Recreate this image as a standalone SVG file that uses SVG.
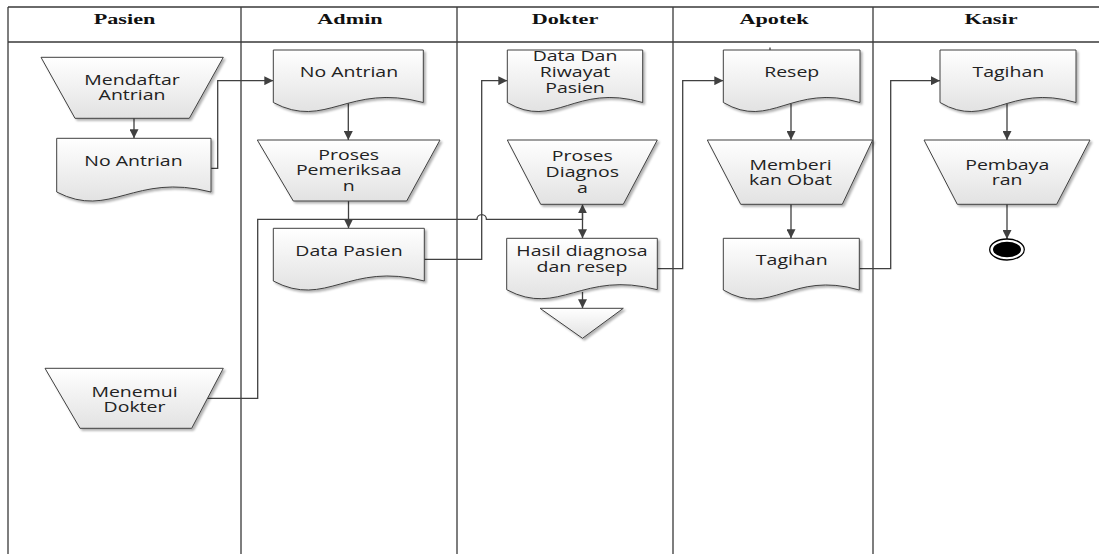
<svg xmlns="http://www.w3.org/2000/svg" width="1099" height="554" viewBox="0 0 1099 554">
<defs>
<linearGradient id="g" x1="0" y1="0" x2="0" y2="1">
<stop offset="0" stop-color="#ffffff"/>
<stop offset="1" stop-color="#e2e2e2"/>
</linearGradient>
<filter id="sh" x="-10%" y="-10%" width="130%" height="140%">
<feDropShadow dx="2" dy="2" stdDeviation="1.2" flood-color="#000" flood-opacity="0.3"/>
</filter>
<marker id="arr" viewBox="0 0 10 10" refX="10" refY="5" markerWidth="9" markerHeight="9" markerUnits="userSpaceOnUse" orient="auto">
<path d="M0,0 L10,5 L0,10 z" fill="#404040"/>
</marker>
<style>
.lane{stroke:#3a3a3a;stroke-width:1.3;fill:none}
.hd{font-family:"Liberation Serif","Times New Roman",serif;font-weight:bold;font-size:15px;fill:#111;text-anchor:middle}
.sh{fill:url(#g);stroke:#404040;stroke-width:1;filter:url(#sh)}
.t{font-family:"Open Sans","Noto Sans",sans-serif;font-size:15px;fill:#222;text-anchor:middle}
.c{fill:none;stroke:#404040;stroke-width:1.3}
.ca{fill:none;stroke:#404040;stroke-width:1.3;marker-end:url(#arr)}
</style>
</defs>
<rect width="1099" height="554" fill="#ffffff"/>
<g id="lanes">
<path class="lane" d="M8,7 H1099 M8,42 H1099 M8,7 V554 M241,7 V554 M457,7 V554 M673,7 V554 M873,7 V554"/>
<text class="hd" transform="translate(124.5,24) scale(1.48,1)">Pasien</text>
<text class="hd" transform="translate(350,24) scale(1.48,1)">Admin</text>
<text class="hd" transform="translate(565,24) scale(1.48,1)">Dokter</text>
<text class="hd" transform="translate(774,24) scale(1.48,1)">Apotek</text>
<text class="hd" transform="translate(991,24) scale(1.48,1)">Kasir</text>
</g>
<g id="connectors">
<path class="ca" d="M134,112 V138.3"/>
<path class="ca" d="M205,168.3 H217.7 V80.7 H273.3"/>
<path class="ca" d="M348.3,98 V140"/>
<path class="ca" d="M348.5,195 V228.3"/>
<path class="ca" d="M418,259.3 H481.7 V80.7 H507.3"/>
<path class="ca" d="M200,398.3 H257.7 V219.3 H477 a4.7,4.7 0 0 1 9.4,0 H582.5 V204.3"/>
<path class="ca" d="M582.5,212 V238.3"/>
<path class="ca" d="M582.5,292 V308.3"/>
<path class="ca" d="M650,268.7 H682.7 V80.7 H723.3"/>
<path class="ca" d="M791,98 V140"/>
<path class="ca" d="M791,198 V238.3"/>
<path class="ca" d="M852,268.7 H890.7 V80.7 H940"/>
<path class="ca" d="M1007,98 V140"/>
<path class="ca" d="M1007,198 V239"/>
<path class="c" d="M770,47.5 V51.5" stroke-width="1.6"/>
</g>
<g id="n-mendaftar">
<path class="sh" d="M41,57.3 H223.3 L189.3,118.3 H75 Z"/>
<text class="t" transform="translate(132,85) scale(1.3,1)"><tspan x="0" y="0">Mendaftar</tspan><tspan x="0" y="15">Antrian</tspan></text>
</g>
<g id="n-noantrian-pasien">
<path class="sh" d="M56.7,138.3 H211 V192 C133.9,172 110.7,220 56.7,192 Z"/>
<text class="t" transform="translate(133.5,166) scale(1.3,1)">No Antrian</text>
</g>
<g id="n-menemui">
<path class="sh" d="M45,368.3 H223.3 L191.7,428.3 H80 Z"/>
<text class="t" transform="translate(134.5,397.3) scale(1.3,1)"><tspan x="0" y="0">Menemui</tspan><tspan x="0" y="14.5">Dokter</tspan></text>
</g>
<g id="n-noantrian-admin">
<path class="sh" d="M273.3,50 H423.3 V102.5 C348.3,82.5 325.8,130.5 273.3,102.5 Z"/>
<text class="t" transform="translate(349,77.3) scale(1.3,1)">No Antrian</text>
</g>
<g id="n-pemeriksaan">
<path class="sh" d="M257.3,140 H440 L406.7,201 H293.3 Z"/>
<text class="t" transform="translate(348.7,160) scale(1.3,1)"><tspan x="0" y="0">Proses</tspan><tspan x="0" y="15.3">Pemeriksaa</tspan><tspan x="0" y="30.6">n</tspan></text>
</g>
<g id="n-datapasien">
<path class="sh" d="M273.3,228.3 H424.3 V281 C348.8,261 326.2,309 273.3,281 Z"/>
<text class="t" transform="translate(349,255.7) scale(1.3,1)">Data Pasien</text>
</g>
<g id="n-riwayat">
<path class="sh" d="M507.3,50 H642.7 V102.5 C575,82.5 554.7,130.5 507.3,102.5 Z"/>
<text class="t" transform="translate(575,60.7) scale(1.3,1)"><tspan x="0" y="0">Data Dan</tspan><tspan x="0" y="16.3">Riwayat</tspan><tspan x="0" y="32.6">Pasien</tspan></text>
</g>
<g id="n-diagnosa">
<path class="sh" d="M507.3,140 H657.3 L623.3,204.3 H540.7 Z"/>
<text class="t" transform="translate(582.3,160.7) scale(1.3,1)"><tspan x="0" y="0">Proses</tspan><tspan x="0" y="16">Diagnos</tspan><tspan x="0" y="32">a</tspan></text>
</g>
<g id="n-hasil">
<path class="sh" d="M506.7,238.3 H657.3 V289.7 C582,269.7 559.4,317.7 506.7,289.7 Z"/>
<text class="t" transform="translate(582,255.7) scale(1.3,1)"><tspan x="0" y="0">Hasil diagnosa</tspan><tspan x="0" y="16">dan resep</tspan></text>
</g>
<g id="n-offpage">
<path class="sh" d="M540,308.3 H623.3 L582.5,338.3 Z"/>
</g>
<g id="n-resep">
<path class="sh" d="M723.3,50 H860 V102.5 C791.7,82.5 771.1,130.5 723.3,102.5 Z"/>
<text class="t" transform="translate(791.7,76.7) scale(1.3,1)">Resep</text>
</g>
<g id="n-memberi">
<path class="sh" d="M707.3,140 H872.7 L842.3,204.3 H740.7 Z"/>
<text class="t" transform="translate(790.5,170) scale(1.3,1)"><tspan x="0" y="0">Memberi</tspan><tspan x="0" y="15">kan Obat</tspan></text>
</g>
<g id="n-tagihan-apotek">
<path class="sh" d="M723.3,238.3 H859.3 V290 C791.3,270 770.9,318 723.3,290 Z"/>
<text class="t" transform="translate(791.7,265) scale(1.3,1)">Tagihan</text>
</g>
<g id="n-tagihan-kasir">
<path class="sh" d="M940,50 H1076 V102.5 C1008,82.5 987.6,130.5 940,102.5 Z"/>
<text class="t" transform="translate(1008.3,77.3) scale(1.3,1)">Tagihan</text>
</g>
<g id="n-pembayaran">
<path class="sh" d="M924,140 H1090 L1056.7,204.3 H957.3 Z"/>
<text class="t" transform="translate(1007.2,170) scale(1.3,1)"><tspan x="0" y="0">Pembaya</tspan><tspan x="0" y="15">ran</tspan></text>
</g>
<g id="n-end">
<ellipse cx="1007" cy="249.5" rx="17.3" ry="10.5" fill="#ffffff" stroke="#000" stroke-width="1.3"/>
<ellipse cx="1007" cy="249.5" rx="14" ry="7.8" fill="#000"/>
</g>
</svg>
